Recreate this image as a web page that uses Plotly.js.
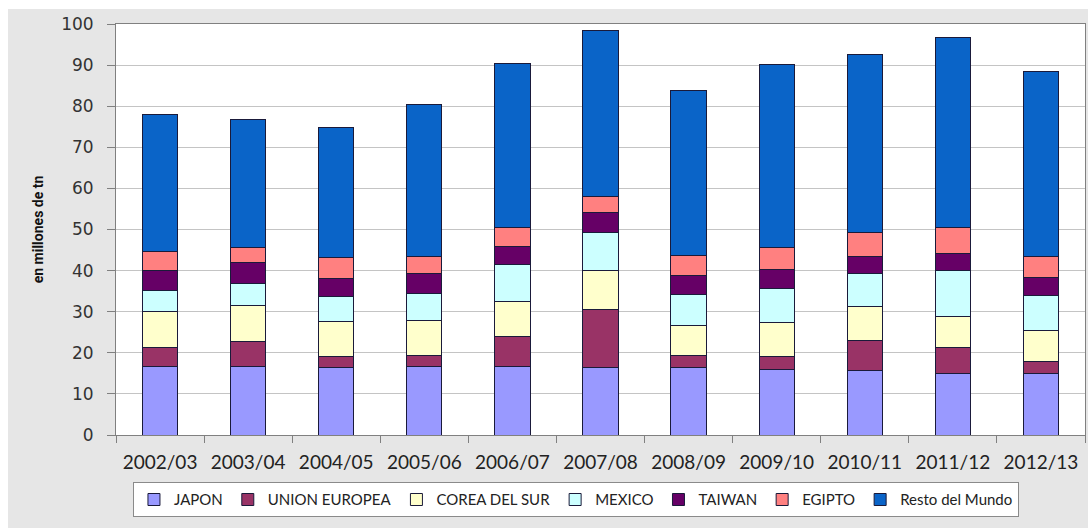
<!DOCTYPE html>
<html>
<head>
<meta charset="utf-8">
<script src="https://cdn.plot.ly/plotly-3.0.1.min.js"></script>
<style>
  html, body { margin: 0; padding: 0; background: #ffffff; }
  #chart { position: absolute; left: 8px; top: 9px; width: 1080px; height: 519px; }
</style>
</head>
<body>
<div id="chart"></div>
<script>
const campaigns = ["2002/03","2003/04","2004/05","2005/06","2006/07","2007/08","2008/09","2009/10","2010/11","2011/12","2012/13"];

const japon        = [16.7, 16.7, 16.4, 16.7, 16.6, 16.5, 16.5, 15.9, 15.6, 15.0, 15.0];
const unionEuropea = [4.6, 6.1, 2.6, 2.7, 7.3, 14.1, 2.9, 3.1, 7.5, 6.3, 3.0];
const coreaDelSur  = [8.7, 8.6, 8.6, 8.4, 8.6, 9.4, 7.2, 8.3, 8.1, 7.6, 7.5];
const mexico       = [5.1, 5.5, 6.1, 6.6, 8.9, 9.3, 7.5, 8.3, 8.1, 11.1, 8.5];
const taiwan       = [4.9, 5.1, 4.4, 4.8, 4.4, 4.8, 4.6, 4.6, 4.1, 4.2, 4.3];
const egipto       = [4.7, 3.7, 5.2, 4.2, 4.6, 3.9, 4.9, 5.5, 5.9, 6.4, 5.2];
const restoMundo   = [33.4, 31.1, 31.5, 36.9, 39.9, 40.3, 40.1, 44.5, 43.4, 46.2, 45.0];

const seriesNames  = ["JAPON","UNION EUROPEA","COREA DEL SUR","MEXICO","TAIWAN","EGIPTO","Resto del Mundo"];
const seriesValues = [japon, unionEuropea, coreaDelSur, mexico, taiwan, egipto, restoMundo];
const seriesColors = ["#9999ff","#993366","#ffffcc","#ccffff","#660066","#ff8080","#0a64c8"];

const traces = seriesNames.map((name, i) => ({
  type: "bar",
  name: name,
  x: campaigns,
  y: seriesValues[i],
  marker: { color: seriesColors[i], line: { color: "#1a1a3a", width: 1 } },
  hoverinfo: "x+y+name"
}));

const layout = {
  width: 1080,
  height: 519,
  paper_bgcolor: "#e6e6e6",
  plot_bgcolor: "#ffffff",
  barmode: "stack",
  bargap: 0.6,
  margin: { l: 108, r: 3, t: 15, b: 93, pad: 0 },
  font: { family: "Lato, sans-serif", color: "#222222" },
  xaxis: {
    type: "category",
    showline: true, linecolor: "#808080", linewidth: 1, mirror: true,
    ticks: "outside", tickson: "boundaries", ticklen: 7, tickcolor: "#808080",
    tickfont: { family: "Lato, sans-serif", size: 19, color: "#222222" },
    ticklabelstandoff: 10,
    showgrid: false, zeroline: false
  },
  yaxis: {
    range: [0, 100], dtick: 10,
    showline: true, linecolor: "#808080", linewidth: 1, mirror: true,
    ticks: "outside", ticklen: 8, tickcolor: "#808080",
    tickfont: { family: "DejaVu Sans, Verdana, sans-serif", size: 17, color: "#333333" },
    ticklabelstandoff: 10,
    showgrid: true, gridcolor: "#c4c4c4", gridwidth: 1,
    zeroline: false,
    title: { text: "en millones de tn", standoff: 14,
      font: { family: "Liberation Sans Narrow, Arial Narrow, Roboto, sans-serif", size: 14, color: "#111111", weight: "bold" } }
  },
  legend: {
    orientation: "h",
    x: 0.0175, xanchor: "left",
    y: -0.115, yanchor: "top",
    bgcolor: "#ffffff",
    bordercolor: "#8a8a8a", borderwidth: 1,
    traceorder: "normal",
    font: { family: "Lato, sans-serif", size: 15, color: "#222222" },
    itemwidth: 30
  },
  showlegend: true
};

Plotly.newPlot("chart", traces, layout, { displayModeBar: false, staticPlot: true });
</script>
</body>
</html>
